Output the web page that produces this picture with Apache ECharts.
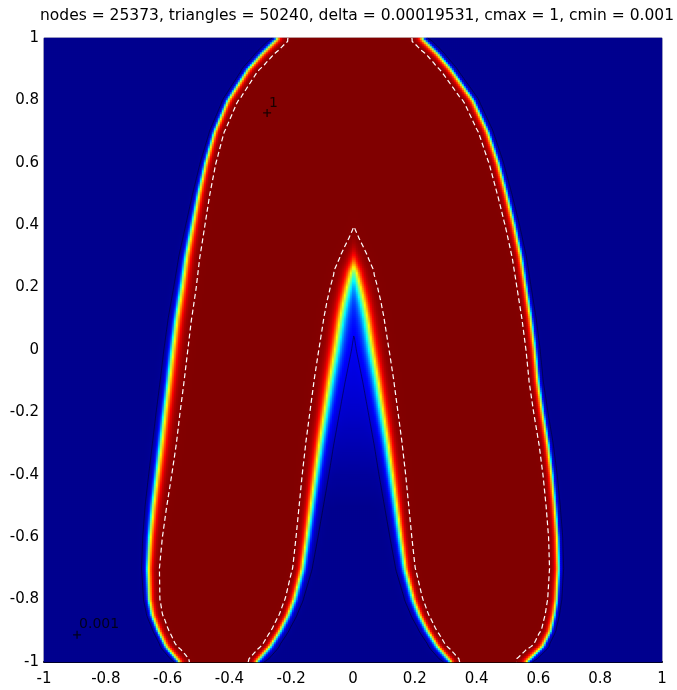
<!DOCTYPE html>
<html>
<head>
<meta charset="utf-8">
<title>contour</title>
<script src="https://cdn.jsdelivr.net/npm/echarts@6/dist/echarts.min.js"></script>
<style>
  html, body { margin: 0; padding: 0; background: #fff; }
  #chart { width: 677px; height: 690px; }
</style>
</head>
<body>
<div id="chart"></div>
<script>
// c = 0.5 level of the outer boundary
const yLevels     = [1.0, 0.95, 0.9, 0.8, 0.7, 0.6, 0.5, 0.4, 0.3, 0.2, 0.1, 0.0, -0.1, -0.2, -0.3, -0.4, -0.5, -0.6, -0.7, -0.8, -0.85, -0.9, -0.95, -1.0];
const outerLeft   = [-0.244, -0.295, -0.34, -0.405, -0.448, -0.477, -0.50, -0.52, -0.54, -0.555, -0.572, -0.585, -0.597, -0.61, -0.622, -0.635, -0.648, -0.658, -0.664, -0.66, -0.65, -0.63, -0.605, -0.562];
const outerRight  = [0.224, 0.275, 0.318, 0.39, 0.437, 0.471, 0.498, 0.523, 0.545, 0.561, 0.577, 0.59, 0.60, 0.615, 0.632, 0.645, 0.655, 0.663, 0.666, 0.66, 0.652, 0.64, 0.615, 0.563];
// front thickness on the left flank (blue side / red side)
const leftSoftOut = [0.0035, 0.0035, 0.0035, 0.0035, 0.0035, 0.0038, 0.0042, 0.0047, 0.0052, 0.0056, 0.0058, 0.006, 0.006, 0.006, 0.006, 0.0058, 0.0055, 0.005, 0.0045, 0.004, 0.0038, 0.0036, 0.0035, 0.0035];
const leftSoftIn  = [0.006, 0.006, 0.006, 0.006, 0.006, 0.0065, 0.0072, 0.008, 0.0088, 0.0094, 0.0098, 0.01, 0.01, 0.01, 0.01, 0.0096, 0.009, 0.0082, 0.0075, 0.007, 0.0066, 0.0063, 0.006, 0.006];
const rightSoft   = [0.0035, 0.006];

// the gap between the two legs: half width of the c = 0.5 level, and the value left in its middle
const gapLevels = [0.45, 0.40, 0.35, 0.30, 0.25, 0.2, 0.15, 0.1, 0.05, 0.0, -0.1, -0.2, -0.3, -0.4, -0.5, -0.6, -0.7, -0.8, -0.85, -0.9, -0.95, -1.0];
const gapHalf   = [-0.085, -0.062, -0.04, -0.016, 0.006, 0.02, 0.032, 0.042, 0.05, 0.058, 0.076, 0.092, 0.108, 0.122, 0.136, 0.150, 0.165, 0.192, 0.212, 0.238, 0.27, 0.315];
const gapSoft   = [0.011, 0.011, 0.011, 0.011, 0.011, 0.011, 0.011, 0.011, 0.011, 0.011, 0.0105, 0.01, 0.0095, 0.009, 0.0082, 0.0074, 0.0066, 0.006, 0.0056, 0.0053, 0.005, 0.005];
const gapFloor  = [0.14, 0.14, 0.14, 0.14, 0.14, 0.14, 0.13, 0.12, 0.11, 0.1, 0.085, 0.065, 0.04, 0.015, 0, 0, 0, 0, 0, 0, 0, 0];
const gapCenter = 0.003;

// contour labels
const labelText = ['1', '0.001'];
const labelX    = [-0.278, -0.893];
const labelY    = [0.76, -0.913];

const titleText = 'nodes = 25373, triangles = 50240, delta = 0.00019531, cmax = 1, cmin = 0.001';

const jet = ['#00008F', '#0000FF', '#0080FF', '#00FFFF', '#80FF80', '#FFFF00', '#FF8000', '#FF0000', '#800000'];

const nx = 309, ny = 312;

function interp(levels, vals, y) {
  if (y >= levels[0]) return vals[0];
  const n = levels.length;
  if (y <= levels[n - 1]) return vals[n - 1];
  for (let k = 0; k < n - 1; k++) {
    if (y <= levels[k] && y >= levels[k + 1]) {
      const t = (levels[k] - y) / (levels[k] - levels[k + 1]);
      return vals[k] + t * (vals[k + 1] - vals[k]);
    }
  }
  return vals[n - 1];
}

function stretch(levels, vals, y) {
  const h = 0.01;
  const s = (interp(levels, vals, y + h) - interp(levels, vals, y - h)) / (2 * h);
  return Math.sqrt(1 + s * s);
}

function rowInfo(y) {
  return {
    xl: interp(yLevels, outerLeft, y),
    xr: interp(yLevels, outerRight, y),
    lo: interp(yLevels, leftSoftOut, y) * stretch(yLevels, outerLeft, y),
    li: interp(yLevels, leftSoftIn, y) * stretch(yLevels, outerLeft, y),
    rf: stretch(yLevels, outerRight, y),
    gh: interp(gapLevels, gapHalf, y),
    gw: interp(gapLevels, gapSoft, y) * stretch(gapLevels, gapHalf, y),
    gf: interp(gapLevels, gapFloor, y)
  };
}

function prof(d, wOut, wIn) {
  return 1 / (1 + Math.exp(-d / (d < 0 ? wOut : wIn)));
}

const xCats = [], yCats = [], cells = [];
for (let i = 0; i < nx; i++) xCats.push(i);
for (let j = 0; j < ny; j++) {
  yCats.push(j);
  const y = -1 + (j + 0.5) * 2 / ny;
  const r = rowInfo(y);
  for (let i = 0; i < nx; i++) {
    const x = -1 + (i + 0.5) * 2 / nx;
    const sL = prof(x - r.xl, r.lo, r.li);
    const sR = prof(r.xr - x, rightSoft[0] * r.rf, rightSoft[1] * r.rf);
    const sG = r.gf + (1 - r.gf) * prof(Math.abs(x - gapCenter) - r.gh, r.gw, r.gw);
    cells.push([i, j, Math.min(sL, sR, sG)]);
  }
}

// contour lines c = 1 (white) and c = 0.001 (black) from the same fronts
const hiK = 5, loK = 4.5;
const whiteL = [], whiteR = [], blackL = [], blackR = [];
const gapWl = [], gapWr = [], gapBl = [], gapBr = [];
for (let k = 0; k <= 400; k++) {
  const y = 1 - k * 0.005;
  const r = rowInfo(y);
  whiteL.push([r.xl + hiK * r.li, y]);
  whiteR.push([r.xr - hiK * rightSoft[1] * r.rf, y]);
  blackL.push([r.xl - loK * r.lo, y]);
  blackR.push([r.xr + loK * rightSoft[0] * r.rf, y]);
  const ow = r.gh + hiK * r.gw;
  if (ow >= 0) { gapWl.push([gapCenter - ow, y]); gapWr.push([gapCenter + ow, y]); }
  const ob = r.gh - loK * r.gw;
  if (ob >= 0) { gapBl.push([gapCenter - ob, y]); gapBr.push([gapCenter + ob, y]); }
}
const gapWhite = gapWl.slice().reverse().concat(gapWr);
const gapBlack = gapBl.slice().reverse().concat(gapBr);

function contour(data, color, width, type) {
  return {
    type: 'line', xAxisIndex: 1, yAxisIndex: 1, data: data,
    showSymbol: false, silent: true, z: 5, smooth: 0.3,
    lineStyle: { color: color, width: width, type: type }
  };
}

const myChart = echarts.init(document.getElementById('chart'), null, { renderer: 'canvas' });
const fmt = v => String(+v.toFixed(1));
const tickFont = { color: '#000', fontSize: 15, fontFamily: 'DejaVu Sans' };

myChart.setOption({
  animation: false,
  backgroundColor: '#fff',
  title: {
    text: titleText,
    left: 35, top: 3,
    textStyle: { color: '#000', fontSize: 15.5, fontWeight: 'normal', fontFamily: 'DejaVu Sans' }
  },
  grid: { left: 44, right: 15, top: 38, bottom: 28, show: true, borderColor: '#b0b0b0', borderWidth: 1, backgroundColor: 'transparent' },
  xAxis: [
    { type: 'category', data: xCats, show: false },
    {
      type: 'value', min: -1, max: 1, interval: 0.2, position: 'bottom',
      axisLine: { show: true, lineStyle: { color: '#000', width: 2 } },
      axisTick: { show: false }, splitLine: { show: false },
      axisLabel: Object.assign({ formatter: fmt, margin: 10 }, tickFont)
    }
  ],
  yAxis: [
    { type: 'category', data: yCats, show: false },
    {
      type: 'value', min: -1, max: 1, interval: 0.2, position: 'left',
      axisLine: { show: false }, axisTick: { show: false }, splitLine: { show: false },
      axisLabel: Object.assign({ formatter: fmt, margin: 5 }, tickFont)
    }
  ],
  visualMap: {
    show: false, type: 'continuous', min: 0, max: 1, dimension: 2, seriesIndex: 0,
    inRange: { color: jet }
  },
  series: [
    {
      type: 'heatmap', data: cells, progressive: 0, silent: true,
      itemStyle: { borderWidth: 0 },
      emphasis: { disabled: true }
    },
    contour(blackL, 'rgba(0,0,0,0.55)', 0.8, 'solid'),
    contour(blackR, 'rgba(0,0,0,0.55)', 0.8, 'solid'),
    contour(gapBlack, 'rgba(0,0,0,0.6)', 0.8, 'solid'),
    contour(whiteL, '#ffffff', 1.2, [5, 3]),
    contour(whiteR, '#ffffff', 1.2, [5, 3]),
    contour(gapWhite, '#ffffff', 1.2, [5, 3]),
    {
      type: 'scatter', xAxisIndex: 1, yAxisIndex: 1, silent: true, z: 6,
      data: labelX.map((x, k) => ({ value: [x, labelY[k]], name: labelText[k] })),
      symbol: 'path://M-0.8,-5H0.8V-0.8H5V0.8H0.8V5H-0.8V0.8H-5V-0.8H-0.8Z',
      symbolSize: 8,
      itemStyle: { color: '#000' },
      label: {
        show: true, formatter: '{b}', position: [6, -13],
        color: '#000', fontSize: 14, fontFamily: 'DejaVu Sans'
      }
    }
  ]
});

window.addEventListener('resize', function () {
  myChart.resize();
});
</script>
</body>
</html>
